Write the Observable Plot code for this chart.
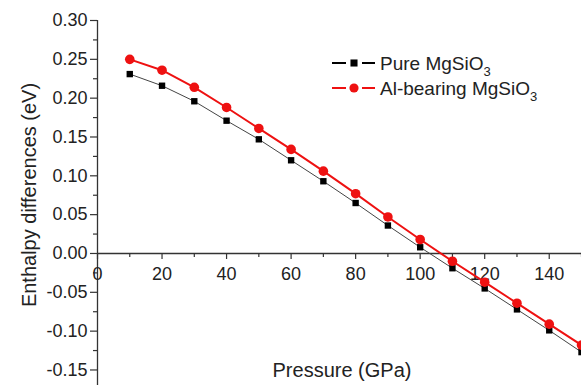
<!DOCTYPE html>
<html>
<head>
<meta charset="utf-8">
<script src="https://cdn.jsdelivr.net/npm/d3@7"></script>
<script src="https://cdn.jsdelivr.net/npm/@observablehq/plot@0.6"></script>
<style>
  html, body { margin: 0; padding: 0; background: #fff; }
  #chart svg { display: block; }
</style>
</head>
<body>
<div id="chart"></div>
<script>
const pressure = [10, 20, 30, 40, 50, 60, 70, 80, 90, 100, 110, 120, 130, 140, 150];
const pureMgSiO3 = [0.231, 0.216, 0.196, 0.171, 0.147, 0.120, 0.093, 0.065, 0.036, 0.008, -0.019, -0.045, -0.072, -0.099, -0.127];
const alBearingMgSiO3 = [0.250, 0.236, 0.214, 0.188, 0.161, 0.134, 0.106, 0.077, 0.047, 0.018, -0.010, -0.037, -0.064, -0.091, -0.118];
const xTicks = [0, 20, 40, 60, 80, 100, 120, 140];
const xMinorTicks = [10, 30, 50, 70, 90, 110, 130, 150];
const yTicks = [0.30, 0.25, 0.20, 0.15, 0.10, 0.05, 0.00, -0.05, -0.10, -0.15];
const yMinorTicks = [0.275, 0.225, 0.175, 0.125, 0.075, 0.025, -0.025, -0.075, -0.125];
const xLabel = "Pressure (GPa)";
const yLabel = "Enthalpy differences (eV)";
const seriesNames = ["Pure MgSiO", "Al-bearing MgSiO"];

const pure = pressure.map((p, i) => ({p, v: pureMgSiO3[i]}));
const al = pressure.map((p, i) => ({p, v: alBearingMgSiO3[i]}));

const font = "'Liberation Sans', Arial, sans-serif";
const W = 581, H = 385;

const plot = Plot.plot({
  width: W,
  height: H,
  marginLeft: 97,
  marginRight: 0,
  marginTop: 20,
  marginBottom: 0,
  style: {fontFamily: font, fontSize: "18px", color: "#222", background: "#fff", overflow: "visible"},
  x: {domain: [0, 150], axis: null},
  y: {domain: [-0.17, 0.30], axis: null},
  marks: [
    Plot.ruleX([0], {y1: -0.17, y2: 0.30, stroke: "#333", strokeWidth: 1.3}),
    Plot.ruleY([0], {stroke: "#333", strokeWidth: 1.3}),
    Plot.ruleY(yTicks, {x1: 0, x2: 0, insetLeft: -7, stroke: "#333", strokeWidth: 1.2}),
    Plot.ruleY(yMinorTicks, {x1: 0, x2: 0, insetLeft: -4, stroke: "#333", strokeWidth: 1.2}),
    Plot.text(yTicks, {x: 0, y: d => d, dx: -10, textAnchor: "end", text: d => d.toFixed(2), fontSize: 18, fill: "#222"}),
    Plot.ruleX(xTicks, {y1: 0, y2: 0, insetBottom: -6, stroke: "#333", strokeWidth: 1.2}),
    Plot.ruleX(xMinorTicks, {y1: 0, y2: 0, insetBottom: -4, stroke: "#333", strokeWidth: 1.2}),
    Plot.text(xTicks, {x: d => d, y: 0, dy: 21, text: d => String(d), fontSize: 18, fill: "#222"}),
    Plot.line(pure, {x: "p", y: "v", stroke: "#444", strokeWidth: 1}),
    Plot.dot(pure, {x: "p", y: "v", symbol: "square", r: 3.6, fill: "#000", stroke: "none"}),
    Plot.line(al, {x: "p", y: "v", stroke: "#ee1111", strokeWidth: 2}),
    Plot.dot(al, {x: "p", y: "v", r: 4.8, fill: "#ee1111", stroke: "none"})
  ]
});

document.getElementById("chart").appendChild(plot);

const svg = d3.select(plot);
svg.append("text")
  .attr("x", 342).attr("y", 377)
  .attr("text-anchor", "middle")
  .attr("font-size", 20).attr("font-family", font).attr("fill", "#222")
  .text(xLabel);
svg.append("text")
  .attr("transform", "translate(36,195) rotate(-90)")
  .attr("text-anchor", "middle")
  .attr("font-size", 20).attr("font-family", font).attr("fill", "#222")
  .text(yLabel);

const legend = svg.append("g").attr("font-family", font).attr("font-size", 19)
  .attr("fill", "#222").attr("text-anchor", "start");
const legendItems = [
  {name: seriesNames[0], color: "#000", symbol: d3.symbolSquare, size: 50, y: 63},
  {name: seriesNames[1], color: "#ee1111", symbol: d3.symbolCircle, size: 66, y: 88}
];
legendItems.forEach(it => {
  legend.append("line").attr("x1", 332).attr("x2", 346).attr("y1", it.y).attr("y2", it.y)
    .attr("stroke", it.color).attr("stroke-width", 2);
  legend.append("line").attr("x1", 362).attr("x2", 375).attr("y1", it.y).attr("y2", it.y)
    .attr("stroke", it.color).attr("stroke-width", 2);
  legend.append("path").attr("d", d3.symbol(it.symbol, it.size)())
    .attr("transform", `translate(354,${it.y})`).attr("fill", it.color);
  const t = legend.append("text").attr("x", 380).attr("y", it.y + 7).attr("text-anchor", "start");
  t.append("tspan").text(it.name);
  t.append("tspan").attr("font-size", 13).attr("dy", 6).text("3");
});
</script>
</body>
</html>
